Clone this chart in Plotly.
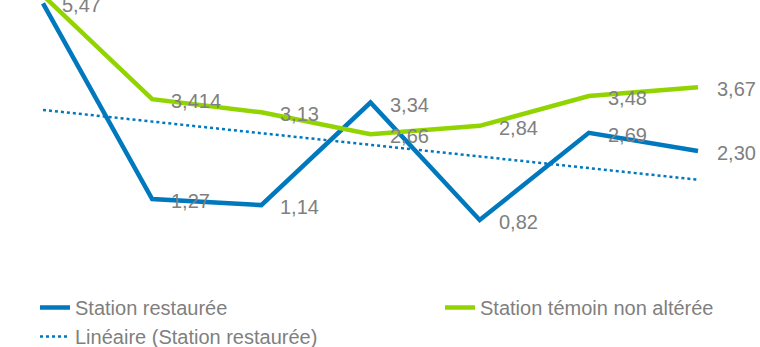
import numpy as np
import plotly.graph_objects as go

# ---- data ----
periods = [1, 2, 3, 4, 5, 6, 7]
restored = [5.47, 1.27, 1.14, 3.34, 0.82, 2.69, 2.30]
restored_labels = ["5,47", "1,27", "1,14", "3,34", "0,82", "2,69", "2,30"]
control = [5.64, 3.414, 3.13, 2.66, 2.84, 3.48, 3.67]
control_labels = ["5,64", "3,414", "3,13", "2,66", "2,84", "3,48", "3,67"]

name_restored = "Station restaurée"
name_control = "Station témoin non altérée"
name_trend = "Linéaire (Station restaurée)"

BLUE = "#0078BE"
GREEN = "#92D400"
LABEL = "#808080"
FONT = "Liberation Sans, Arial, sans-serif"
FS = 20

# linear trend of the restored station
coef = np.polyfit(periods, restored, 1)
trend = np.polyval(coef, periods)

fig = go.Figure()
fig.add_trace(go.Scatter(x=periods, y=restored, mode="lines", name=name_restored,
                         legend="legend", legendgroup="a",
                         line=dict(color=BLUE, width=4.5)))
fig.add_trace(go.Scatter(x=periods, y=control, mode="lines", name=name_control,
                         legend="legend2",
                         line=dict(color=GREEN, width=4.5)))
fig.add_trace(go.Scatter(x=periods, y=trend, mode="lines", name=name_trend,
                         legend="legend", legendgroup="b",
                         line=dict(color=BLUE, width=2.5, dash="dot")))

for xs, ys, labs in [(periods, restored, restored_labels), (periods, control, control_labels)]:
    for x, y, t in zip(xs, ys, labs):
        fig.add_annotation(x=x, y=y, text=t, showarrow=False, xanchor="left",
                           yanchor="middle", xshift=17, yshift=-2,
                           font=dict(family=FONT, size=FS, color=LABEL))

H = 347
PX_PER_UNIT = 46.6
ZERO_PX = 258.2
legfont = dict(family=FONT, size=FS, color="#7F7F7F")
LEG_TOP = 288

fig.update_layout(
    width=760, height=H,
    margin=dict(l=0, r=0, t=0, b=0, autoexpand=False),
    paper_bgcolor="white", plot_bgcolor="white",
    showlegend=True,
    legend=dict(orientation="v", x=35 / 760, y=1 - LEG_TOP / H, xanchor="left", yanchor="top",
                traceorder="grouped", tracegroupgap=0,
                font=legfont, bgcolor="rgba(0,0,0,0)", borderwidth=0),
    legend2=dict(orientation="v", x=440 / 760, y=1 - LEG_TOP / H, xanchor="left", yanchor="top",
                 font=legfont, bgcolor="rgba(0,0,0,0)", borderwidth=0),
    xaxis=dict(range=[1 - 43 / 109.17, 7 + 62 / 109.17], visible=False, fixedrange=True),
    yaxis=dict(range=[-(H - ZERO_PX) / PX_PER_UNIT, ZERO_PX / PX_PER_UNIT],
               visible=False, fixedrange=True),
)

fig.write_html("out.html")
